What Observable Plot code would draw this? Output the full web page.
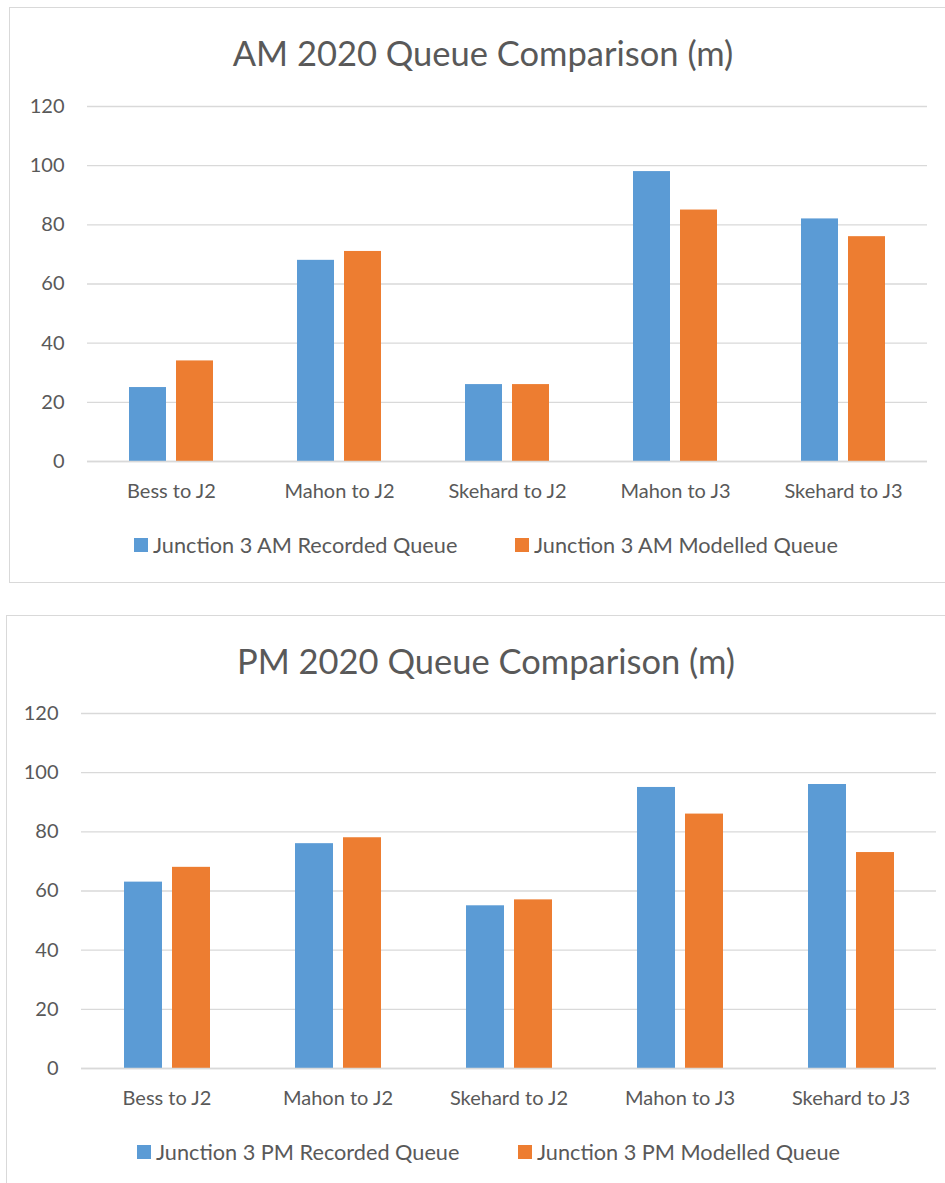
<!DOCTYPE html>
<html>
<head>
<meta charset="utf-8">
<script src="https://cdn.jsdelivr.net/npm/d3@7"></script>
<script src="https://cdn.jsdelivr.net/npm/@observablehq/plot@0.6"></script>
<style>
  html, body { margin: 0; padding: 0; background: #fff; width: 945px; height: 1183px; overflow: hidden; position: relative; }
  .panel { position: absolute; border: 1.5px solid #d9d9d9; box-sizing: border-box; background: #fff; }
  .title { position: absolute; font-family: Lato, sans-serif; font-size: 34.5px; color: #595959; white-space: nowrap; transform: translate(-50%, -50%); }
  .chart { position: absolute; }
  .leg { position: absolute; font-family: Lato, sans-serif; font-size: 21.7px; color: #595959; white-space: nowrap; display: flex; align-items: center; transform: translateY(-50%); }
  .sw { width: 14px; height: 14px; display: inline-block; margin-right: 5px; }
</style>
</head>
<body>
<script>
const categories = ["Bess to J2", "Mahon to J2", "Skehard to J2", "Mahon to J3", "Skehard to J3"];
const seriesKeys = ["Recorded", "Modelled"];
const amRecorded = [25, 68, 26, 98, 82];
const amModelled = [34, 71, 26, 85, 76];
const pmRecorded = [63, 76, 55, 95, 96];
const pmModelled = [68, 78, 57, 86, 73];
const yTicks = [0, 20, 40, 60, 80, 100, 120];
const colors = ["#5B9BD5", "#ED7D31"];
const amTitle = "AM 2020 Queue Comparison (m)";
const pmTitle = "PM 2020 Queue Comparison (m)";
const amLegend = ["Junction 3 AM Recorded Queue", "Junction 3 AM Modelled Queue"];
const pmLegend = ["Junction 3 PM Recorded Queue", "Junction 3 PM Modelled Queue"];

function el(tag, cls, style, text) {
  const e = document.createElement(tag);
  if (cls) e.className = cls;
  Object.assign(e.style, style || {});
  if (text != null) e.textContent = text;
  document.body.appendChild(e);
  return e;
}

function panel(cfg) {
  el("div", "panel", {left: cfg.box[0] + "px", top: cfg.box[1] + "px", width: cfg.box[2] + "px", height: cfg.box[3] + "px"});
  el("div", "title", {left: cfg.titlePos[0] + "px", top: cfg.titlePos[1] + "px"}, cfg.title);
  const data = [];
  categories.forEach((c, i) => {
    data.push({category: c, series: seriesKeys[0], value: cfg.rec[i]});
    data.push({category: c, series: seriesKeys[1], value: cfg.mod[i]});
  });
  const chart = Plot.plot({
    width: 945,
    height: 440,
    marginTop: 26,
    marginBottom: 59,
    marginLeft: cfg.ml,
    marginRight: cfg.mr,
    style: {fontFamily: "Lato, sans-serif", fontSize: "20px", color: "#595959", background: "transparent", overflow: "visible"},
    facet: {data, x: "category"},
    fx: {domain: categories, padding: 0, tickSize: 0, tickPadding: 22, label: null, axis: "bottom"},
    x: {domain: seriesKeys, axis: null, paddingInner: 0.21, paddingOuter: 0.86},
    y: {domain: [0, 120], ticks: yTicks, tickSize: 0, tickPadding: 23, label: null, tickFormat: d => String(d)},
    color: {domain: seriesKeys, range: colors},
    marks: [
      Plot.ruleY(yTicks, {stroke: "#d9d9d9", strokeWidth: 1.3}),
      Plot.barY(data, {x: "series", y: "value", fill: "series"}),
      Plot.ruleY([0], {stroke: "#d9d9d9", strokeWidth: 1.6})
    ]
  });
  const wrap = el("div", "chart", {left: "0px", top: cfg.svgTop + "px"});
  wrap.appendChild(chart);
  cfg.legend.forEach((t, i) => {
    const l = el("div", "leg", {left: cfg.legX[i] + "px", top: cfg.legY + "px"});
    const s = document.createElement("span");
    s.className = "sw";
    s.style.background = colors[i];
    l.appendChild(s);
    l.appendChild(document.createTextNode(t));
  });
}

panel({box: [9, 7, 945, 576], titlePos: [483, 52], title: amTitle, rec: amRecorded, mod: amModelled,
  svgTop: 80, ml: 85, mr: 17, legend: amLegend, legX: [134, 515], legY: 545});
panel({box: [6, 615, 945, 600], titlePos: [486, 660], title: pmTitle, rec: pmRecorded, mod: pmModelled,
  svgTop: 687, ml: 81, mr: 9, legend: pmLegend, legX: [137, 518], legY: 1152});
</script>
</body>
</html>
